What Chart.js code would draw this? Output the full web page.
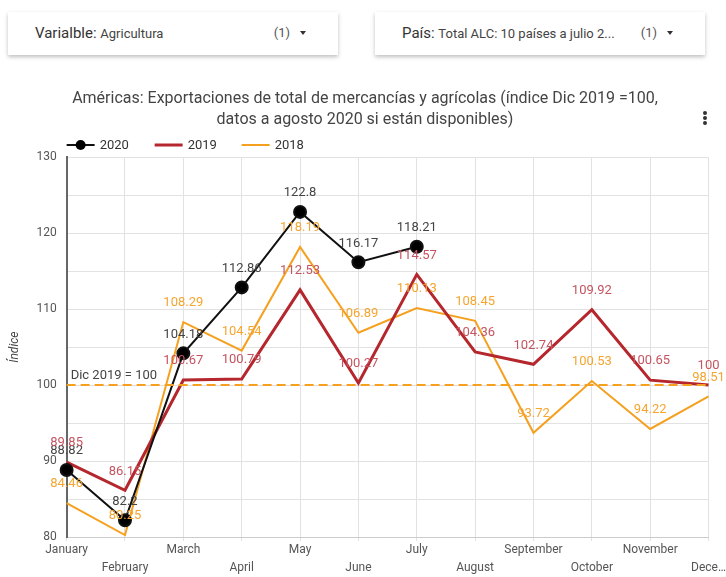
<!DOCTYPE html>
<html>
<head>
<meta charset="utf-8">
<script src="https://cdn.jsdelivr.net/npm/chart.js@4.4.0/dist/chart.umd.min.js"></script>
<style>
  body { margin: 0; background: #fff; font-family: Roboto, sans-serif; width: 726px; height: 577px; overflow: hidden; position: relative; }
  .dd { position: absolute; top: 12px; height: 43px; width: 330px; background: #fff; box-shadow: 0 2px 4px rgba(0,0,0,0.25); color: #333; }
  .dd .lbl { position: absolute; left: 27px; top: 12px; font-size: 15px; }
  .dd .lbl span { font-size: 13px; color: #444; }
  .dd .cnt { position: absolute; right: 48px; top: 13px; font-size: 13px; color: #555; }
  .dd .arr { position: absolute; right: 32px; top: 19px; width: 0; height: 0; border-left: 3px solid transparent; border-right: 3px solid transparent; border-top: 4px solid #333; }
  #wrap { position: absolute; left: 0; top: 70px; width: 726px; height: 507px; }
  .kebab { position: absolute; left: 703px; top: 111px; width: 4px; }
  .kebab i { display: block; width: 4px; height: 4px; border-radius: 2px; background: #333; margin-bottom: 1px; }
</style>
</head>
<body>
<div class="dd" style="left:8px"><div class="lbl">Varialble: <span>Agricultura</span></div><div class="cnt">(1)</div><div class="arr"></div></div>
<div class="dd" style="left:375px"><div class="lbl">País: <span>Total ALC: 10 países a julio 2...</span></div><div class="cnt">(1)</div><div class="arr"></div></div>
<div class="kebab"><i></i><i></i><i></i></div>
<div id="wrap"><canvas id="c"></canvas></div>
<script>
var months = ["January", "February", "March", "April", "May", "June", "July", "August", "September", "October", "November", "December"];
var v2020 = [88.82, 82.2, 104.18, 112.86, 122.8, 116.17, 118.21, null, null, null, null, null];
var v2019 = [89.85, 86.15, 100.67, 100.79, 112.53, 100.27, 114.57, 104.36, 102.74, 109.92, 100.65, 100];
var v2018 = [84.46, 80.25, 108.29, 104.54, 118.19, 106.89, 110.13, 108.45, 93.72, 100.53, 94.22, 98.51];
var refValue = 100;
var refLabel = "Dic 2019 = 100";
var titleLines = ["Américas: Exportaciones de total de mercancías y agrícolas (índice Dic 2019 =100,", "datos a agosto 2020 si están disponibles)"];

var labelPlugin = {
  id: 'labels',
  afterDatasetsDraw: function(chart) {
    var ctx = chart.ctx;
    var y = chart.scales.y, area = chart.chartArea;
    // reference line
    var ry = y.getPixelForValue(refValue);
    ctx.save();
    ctx.strokeStyle = '#f5a01f';
    ctx.lineWidth = 2;
    ctx.setLineDash([9, 5]);
    ctx.beginPath();
    ctx.moveTo(area.left, ry);
    ctx.lineTo(area.right, ry);
    ctx.stroke();
    ctx.setLineDash([]);
    ctx.font = '13px Roboto';
    ctx.fillStyle = '#444';
    ctx.textAlign = 'left';
    ctx.textBaseline = 'bottom';
    ctx.fillText(refLabel, area.left + 4, ry - 3);
    // point labels
    ctx.textAlign = 'center';
    ctx.textBaseline = 'middle';
    chart.data.datasets.forEach(function(ds, i) {
      var meta = chart.getDatasetMeta(i);
      meta.data.forEach(function(pt, j) {
        if (ds.data[j] == null) return;
        ctx.fillStyle = ds.labelColor;
        ctx.fillText(String(ds.data[j]), pt.x, pt.y - 19);
      });
    });
    // legend
    var lx = area.left, ly = 75;
    ctx.font = '13px Roboto';
    ctx.textAlign = 'left';
    var items = chart.data.datasets;
    var offsets = [0, 88, 175];
    items.forEach(function(ds, i) {
      var x0 = lx + offsets[i];
      ctx.strokeStyle = ds.borderColor;
      ctx.lineWidth = i === 1 ? 3 : 2;
      ctx.beginPath();
      ctx.moveTo(x0, ly);
      ctx.lineTo(x0 + 28, ly);
      ctx.stroke();
      if (i === 0) {
        ctx.fillStyle = '#000';
        ctx.beginPath();
        ctx.arc(x0 + 14, ly, 5, 0, Math.PI * 2);
        ctx.fill();
      }
      ctx.fillStyle = '#333';
      ctx.fillText(ds.label, x0 + 33, ly + 1);
    });
    ctx.restore();
  }
};

new Chart(document.getElementById('c'), {
  type: 'line',
  data: {
    labels: months,
    datasets: [{
      label: '2020',
      data: v2020,
      borderColor: '#111',
      backgroundColor: '#000',
      borderWidth: 2,
      pointRadius: 6,
      pointBackgroundColor: '#000',
      labelColor: '#444',
      spanGaps: false
    }, {
      label: '2019',
      data: v2019,
      borderColor: '#b5272d',
      borderWidth: 3,
      pointRadius: 0,
      labelColor: 'rgb(196,84,96)'
    }, {
      label: '2018',
      data: v2018,
      borderColor: '#f5a01f',
      borderWidth: 2,
      pointRadius: 0,
      labelColor: '#f5a530'
    }]
  },
  options: {
    responsive: true,
    maintainAspectRatio: false,
    animation: false,
    layout: { padding: { left: 4, right: 0, bottom: 0 } },
    elements: { line: { tension: 0 } },
    plugins: {
      legend: { display: false },
      tooltip: { enabled: false },
      title: {
        display: true,
        text: titleLines,
        color: '#444',
        font: { family: 'Roboto', size: 16, weight: 'normal', lineHeight: 1.35 },
        padding: { top: 18, bottom: 26 }
      }
    },
    scales: {
      x: {
        grid: { color: '#e2e2e2', drawTicks: true, tickLength: 4 },
        border: { color: '#ccc' },
        ticks: {
          autoSkip: false,
          maxRotation: 0,
          color: '#555',
          font: { family: 'Roboto', size: 12, lineHeight: 1.5 },
          padding: 0,
          callback: function(v, i) {
            var t = months[i] === 'December' ? 'Dece…' : months[i];
            return i % 2 === 0 ? t : ['', t];
          }
        }
      },
      y: {
        min: 80,
        max: 130,
        grid: { color: '#e2e2e2', drawTicks: false },
        border: { color: '#666', width: 2 },
        title: { display: true, text: 'Índice', color: '#444', font: { family: 'Roboto', size: 12, style: 'italic' } },
        ticks: {
          stepSize: 5,
          color: '#555',
          padding: 10,
          font: { family: 'Roboto', size: 12 },
          callback: function(v) { return v % 10 === 0 ? v : ''; }
        }
      }
    }
  },
  plugins: [labelPlugin]
});
</script>
</body>
</html>
